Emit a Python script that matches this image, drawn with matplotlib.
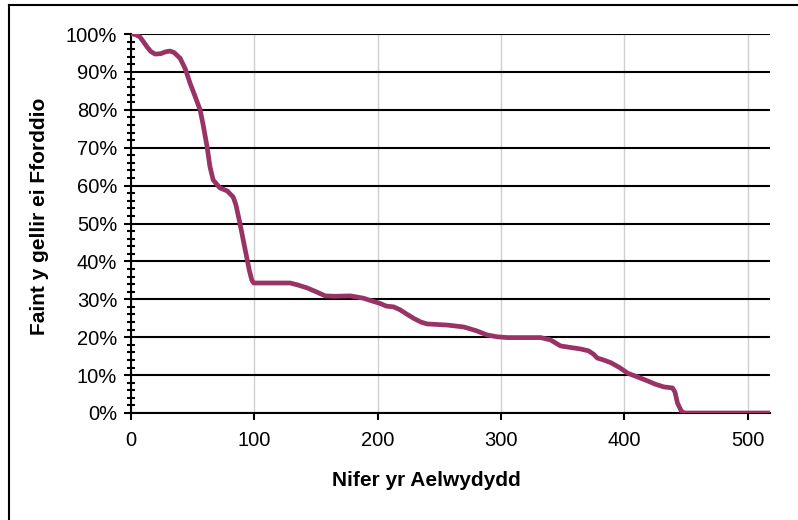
import matplotlib
matplotlib.use("Agg")
import matplotlib.pyplot as plt
from matplotlib.lines import Line2D
from matplotlib.ticker import MultipleLocator, PercentFormatter

plt.rcParams["font.family"] = ["Liberation Sans", "DejaVu Sans"]

# data
households = [0, 1.6, 4, 7.3, 10, 13, 16, 19.5, 24, 28, 31.7, 35, 39.8, 44, 47.9,
              52, 56, 58.5, 61.7, 64, 66.6, 72, 78, 82.8, 85, 88, 92, 96,
              98, 99.5, 110, 120, 129, 135, 142.8, 150, 157.5, 165, 177.8, 188.3,
              195, 202, 207, 212.9, 218.3, 224, 229, 235, 240, 256.5, 269.7,
              280, 288.6, 297, 305, 320, 332, 340, 348.2, 356, 364.4, 370.9,
              375, 378, 383, 388.8, 396, 402.6, 410, 418.5, 425, 431.8, 439,
              441, 443, 446, 448, 450, 480, 518]
affordable = [100, 100, 99.8, 99.2, 98, 96.6, 95.4, 94.7, 94.8, 95.3, 95.5, 95.1,
              93.6, 90.8, 87, 83.5, 80, 76, 70.2, 65, 61.5, 59.4, 58.6, 57, 55,
              50.5, 44, 37.5, 35, 34.3, 34.3, 34.3, 34.3, 33.8, 33, 32, 30.9,
              30.8, 30.9, 30.3, 29.6, 28.9, 28.2, 28.0, 27.2, 26, 25.0, 24, 23.5,
              23.2, 22.7, 21.7, 20.6, 20.1, 19.9, 19.9, 19.9, 19.3, 17.7, 17.3,
              16.9, 16.4, 15.5, 14.5, 14.0, 13.3, 12.0, 10.5, 9.6, 8.5, 7.6, 6.9,
              6.6, 5.5, 2.6, 0.6, 0, 0, 0, 0]

fig = plt.figure(figsize=(7.98, 5.20), dpi=100)
ax = fig.add_axes([131 / 798, 1 - 413 / 520, 639 / 798, 379 / 520])

ax.plot(households, affordable, color="#993366", linewidth=3.4,
        solid_capstyle="round", solid_joinstyle="round", zorder=3)

ax.set_xlim(0, 518)
ax.set_ylim(0, 100)
ax.xaxis.set_major_locator(MultipleLocator(100))
ax.yaxis.set_major_locator(MultipleLocator(10))
ax.yaxis.set_minor_locator(MultipleLocator(2))
ax.yaxis.set_major_formatter(PercentFormatter(decimals=0))

ax.grid(axis="y", which="major", color="black", linewidth=1.5, zorder=1)
ax.grid(axis="x", which="major", color="#d0d0d0", linewidth=1.0, zorder=1)

for side in ["top", "right"]:
    ax.spines[side].set_visible(False)
ax.spines["left"].set_linewidth(1.5)
ax.spines["bottom"].set_linewidth(1.5)

ax.tick_params(axis="y", which="major", length=5, width=1.5, direction="out",
               labelsize=14.5, pad=5)
ax.tick_params(axis="y", which="minor", length=6, width=1.5, direction="inout")
ax.tick_params(axis="x", which="major", length=5, width=1.5, direction="out",
               labelsize=14.5, pad=8)

ax.set_xlabel("Nifer yr Aelwydydd", fontsize=15, fontweight="bold")
ax.set_ylabel("Faint y gellir ei Fforddio", fontsize=15, fontweight="bold")
ax.xaxis.set_label_coords(0.463, -0.153)
ax.yaxis.set_label_coords(-0.128, 0.52)

# chart border (only left and top are visible in the reference)
fig.add_artist(Line2D([9 / 798, 9 / 798], [0, 1 - 4.5 / 520], color="black",
                      linewidth=1.5, transform=fig.transFigure))
fig.add_artist(Line2D([9 / 798, 1], [1 - 4.5 / 520, 1 - 4.5 / 520], color="black",
                      linewidth=1.5, transform=fig.transFigure))

fig.savefig("out.png", dpi=100)
